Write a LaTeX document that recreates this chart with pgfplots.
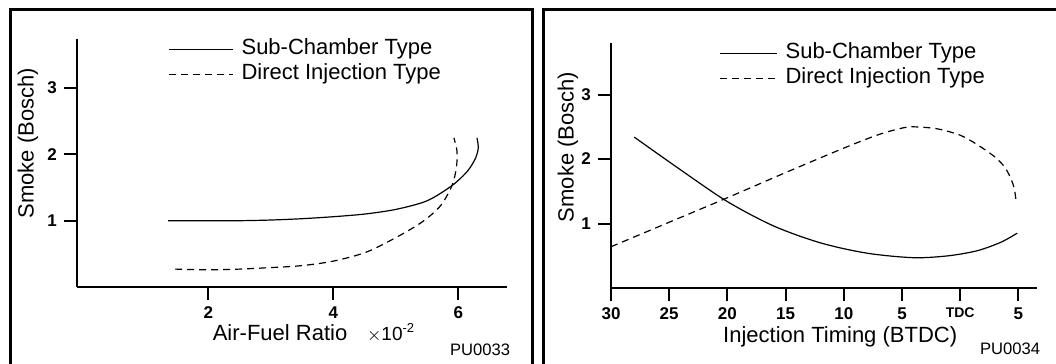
\documentclass[border=0pt]{standalone}
\usepackage{pgfplots}
\pgfplotsset{compat=1.18}
\usepackage{fontspec}
\setmainfont{Liberation Sans}
\begin{document}
\begin{tikzpicture}
\useasboundingbox (0,0) rectangle (528pt,-182pt);
% panel frames
\draw[line width=1.5pt] (5pt,-200pt) -- (5pt,-4.85pt) -- (266pt,-4.85pt) -- (266pt,-200pt);
\draw[line width=1.5pt] (271.5pt,-200pt) -- (271.5pt,-4.85pt) -- (545pt,-4.85pt);
\pgfplotsset{
  panel/.style={
    scale only axis,
    axis x line=bottom, axis y line=left,
    axis line style={-, line width=1pt},
    tick align=outside,
    major tick length=6.5pt,
    every tick/.style={line width=1pt, black},
    tick label style={font=\bfseries\fontsize{8.5}{10}\selectfont},
    /pgf/number format/assume math mode=true,
    label style={font=\fontsize{11}{13}\selectfont},
    legend cell align=left,
    legend style={draw=none, fill=none, inner sep=0pt, row sep=0pt,
      font=\fontsize{11}{13}\selectfont,
      nodes={inner sep=1pt, text height=8pt, text depth=2.5pt},
      /tikz/every odd column/.append style={column sep=3pt}},
    clip=false,
  },
  subc/.style={black, line width=0.6pt, smooth},
  dirc/.style={black, line width=0.6pt, smooth, dash pattern=on 3.5pt off 2.5pt},
}
% ---------------- Left panel ----------------
\begin{axis}[panel,
  at={(38.5pt,-143.5pt)}, anchor=south west,
  width=215pt, height=124pt,
  xmin=-0.1, xmax=6.78, ymin=0, ymax=3.74,
  xtick={2,4,6}, ytick={1,2,3},
  xlabel={Air-Fuel Ratio\hspace{0.9em}{\fontsize{9.5}{11}\selectfont$\times$10\raisebox{0.45em}{\fontsize{6.5}{7}\selectfont -2}}},
  xlabel style={at={(axis description cs:0.55,-0.185)}, anchor=center},
  ylabel={Smoke (Bosch)},
  ylabel style={at={(axis description cs:-0.114,0.58)}, anchor=center},
  legend style={at={(axis description cs:0.2116,1.01)}, anchor=north west},
  legend image code/.code={\draw[#1] (0pt,0pt) -- (32pt,0pt);},
]
\addplot[subc] coordinates {(1.36,1.0) (2.0,1.0) (2.5,1.0) (3.0,1.01) (3.5,1.03) (4.0,1.06) (4.5,1.1) (5.0,1.17) (5.5,1.3) (5.9,1.53) (6.15,1.75) (6.28,1.95) (6.32,2.1) (6.3,2.25)};
\addlegendentry{Sub-Chamber Type}
\addplot[dirc] coordinates {(1.47,0.27) (2.0,0.26) (2.5,0.27) (2.94,0.29) (3.47,0.32) (4.0,0.39) (4.54,0.53) (5.07,0.78) (5.45,1.0) (5.72,1.23) (5.9,1.53) (5.97,1.8) (5.98,2.05) (5.93,2.25)};
\addlegendentry{Direct Injection Type}
\end{axis}
\node[font=\fontsize{8.3}{10}\selectfont] at (240pt,-175pt) {PU0033};
% ---------------- Right panel ----------------
\begin{axis}[panel,
  at={(305.5pt,-144pt)}, anchor=south west,
  width=213pt, height=122.5pt,
  xmin=-30, xmax=6.6, ymin=0, ymax=3.8,
  xtick={-30,-25,-20,-15,-10,-5,0,5},
  xticklabels={30,25,20,15,10,5,{\fontsize{7}{8}\selectfont TDC},5},
  ytick={1,2,3},
  xlabel={Injection Timing (BTDC)},
  xlabel style={at={(axis description cs:0.538,-0.2)}, anchor=center},
  ylabel={Smoke (Bosch)},
  ylabel style={at={(axis description cs:-0.101,0.576)}, anchor=center},
  legend style={at={(axis description cs:0.2535,1.01)}, anchor=north west},
  legend image code/.code={\draw[#1] (0pt,0pt) -- (28.5pt,0pt);},
]
\addplot[subc] coordinates {(-28,2.34) (-24,1.83) (-20,1.34) (-16,0.96) (-12,0.7) (-8,0.54) (-4,0.47) (-1,0.5) (1.5,0.58) (3.5,0.71) (4.9,0.85)};
\addlegendentry{Sub-Chamber Type}
\addplot[dirc] coordinates {(-30,0.64) (-25,1.02) (-20,1.4) (-15,1.79) (-10,2.17) (-7,2.38) (-5,2.48) (-4,2.5) (-2,2.47) (0,2.37) (1.5,2.22) (3,2.03) (3.8,1.88) (4.3,1.72) (4.65,1.54) (4.8,1.35)};
\addlegendentry{Direct Injection Type}
\end{axis}
\node[font=\fontsize{8.3}{10}\selectfont] at (505pt,-174.5pt) {PU0034};
\end{tikzpicture}
\end{document}
